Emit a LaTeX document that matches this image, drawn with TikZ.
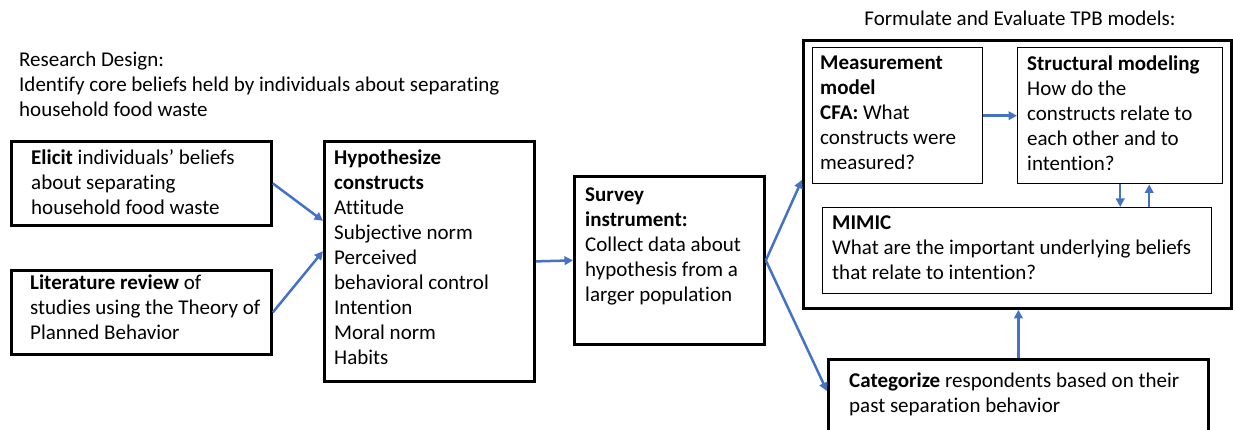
\documentclass[tikz,border=0pt]{standalone}
\usepackage{fontspec}
\setmainfont{Carlito}[Ligatures={NoCommon}]
\usetikzlibrary{arrows.meta,calc}
\definecolor{arrowblue}{HTML}{4472C4}
\begin{document}
\begin{tikzpicture}[x=1pt,y=-1pt,
  thickbox/.style={draw, line width=2.8pt, inner sep=0pt, anchor=north west},
  thinbox/.style={draw, line width=1.4pt, inner sep=0pt, anchor=north west},
  txt/.style={anchor=north west, inner sep=0pt, align=left, font=\fontsize{21}{25}\selectfont, execute at begin node=\strut},
  arr/.style={draw=arrowblue, line width=2.5pt, -{Triangle[length=8.5pt,width=8.5pt]}}]
\useasboundingbox (0,0) rectangle (1233,430);

% boxes
\node[thickbox, minimum width=260pt, minimum height=84pt] (elicit) at (10,140) {};
\node[thickbox, minimum width=260pt, minimum height=84pt] (lit) at (10,269) {};
\node[thickbox, minimum width=210pt, minimum height=240pt] (hyp) at (323,140) {};
\node[thickbox, minimum width=190pt, minimum height=168pt] (survey) at (573,175) {};
\node[thickbox, minimum width=428pt, minimum height=268pt] (outer) at (802,39) {};
\node[thinbox, minimum width=170pt, minimum height=136pt] (meas) at (812,47) {};
\node[thinbox, minimum width=205pt, minimum height=136pt] (struct) at (1017,47) {};
\node[thinbox, minimum width=389pt, minimum height=86pt] (mimic) at (822,207) {};
\node[thickbox, minimum width=380pt, minimum height=76pt] (categ) at (827,358) {};

% texts (top = first baseline - 17.5)
\node[txt] (design) at (19,52) {Research Design:\\Identify core beliefs held by individuals about separating\\household food waste};
\node[txt, anchor=north] (title) at (1020,8) {Formulate and Evaluate TPB models:};
\node[txt] (elicitt) at (31,149.5) {\textbf{Elicit} individuals’ beliefs\\about separating\\household food waste};
\node[txt] (litt) at (30,274.5) {\textbf{Literature review} of\\studies using the Theory of\\Planned Behavior};
\node[txt] (hypt) at (334,150) {\textbf{Hypothesize}\\\textbf{constructs}\\Attitude\\Subjective norm\\Perceived\\behavioral control\\Intention\\Moral norm\\Habits};
\node[txt] (surveyt) at (585,187.5) {\textbf{Survey}\\\textbf{instrument:}\\Collect data about\\hypothesis from a\\larger population};
\node[txt] (meast) at (820,55.5) {\textbf{Measurement}\\\textbf{model}\\\textbf{CFA:} What\\constructs were\\measured?};
\node[txt] (structt) at (1027,55.5) {\textbf{Structural modeling}\\How do the\\constructs relate to\\each other and to\\intention?};
\node[txt] (mimict) at (832,216) {\textbf{MIMIC}\\What are the important underlying beliefs\\that relate to intention?};
\node[txt] (categt) at (849,373) {\textbf{Categorize} respondents based on their\\past separation behavior};

% connectors
\draw[arr] (elicit.east) -- ($(hyp.north west)!0.333!(hyp.south west)$);
\draw[arr] (lit.east) -- ($(hyp.north west)!0.458!(hyp.south west)$);
\draw[arr] (hyp.east) -- (survey.west);
\draw[arr] (survey.east) -- ($(outer.north west)!0.52!(outer.south west)$);
\draw[arr] (survey.east) -- ($(categ.north west)!0.42!(categ.south west)$);
\draw[arr] (meas.east) -- (struct.west);
\draw[arr] (struct.south) -- (struct.south |- mimic.north);
\coordinate (upbase) at ($(struct.south |- mimic.north)+(29,0)$);
\draw[arr] (upbase) -- (upbase |- struct.south);
\draw[arr] (categ.north) -- (categ.north |- outer.south);
\end{tikzpicture}
\end{document}
